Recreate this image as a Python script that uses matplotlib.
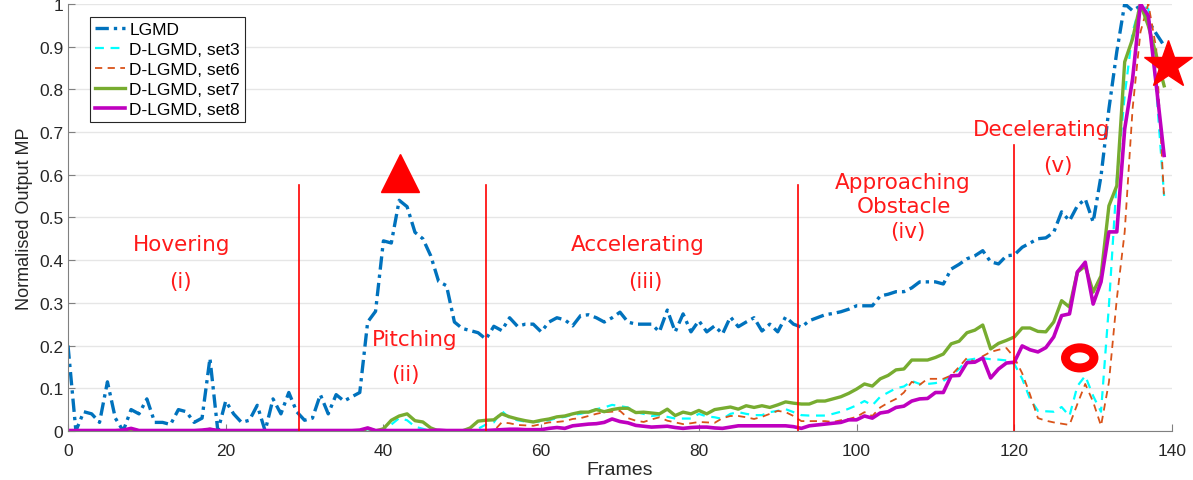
import numpy as np
import matplotlib
matplotlib.use("Agg")
import matplotlib.pyplot as plt
from matplotlib.patches import Ellipse

plt.rcParams['font.family'] = ['Liberation Sans', 'DejaVu Sans']

frames = np.arange(140)

lgmd = [
    0.20, 0.00, 0.045, 0.04, 0.02, 0.115, 0.03, 0.00, 0.05, 0.04,
    0.075, 0.02, 0.02, 0.015, 0.05, 0.045, 0.02, 0.03, 0.17, 0.00,
    0.07, 0.04, 0.02, 0.025, 0.06, 0.00, 0.075, 0.04, 0.09, 0.045,
    0.025, 0.03, 0.085, 0.04, 0.085, 0.07, 0.08, 0.09, 0.255, 0.28,
    0.445, 0.44, 0.54, 0.525, 0.465, 0.45, 0.41, 0.35, 0.34, 0.255,
    0.24, 0.235, 0.23, 0.215, 0.245, 0.235, 0.265, 0.245, 0.25, 0.25,
    0.232, 0.255, 0.265, 0.26, 0.246, 0.27, 0.272, 0.265, 0.255, 0.265,
    0.278, 0.255, 0.25, 0.25, 0.25, 0.232, 0.283, 0.232, 0.274, 0.232,
    0.258, 0.232, 0.246, 0.227, 0.267, 0.244, 0.255, 0.265, 0.234, 0.25,
    0.232, 0.267, 0.25, 0.243, 0.258, 0.265, 0.272, 0.275, 0.279, 0.285,
    0.293, 0.293, 0.293, 0.316, 0.32, 0.326, 0.326, 0.335, 0.349, 0.349,
    0.349, 0.344, 0.379, 0.39, 0.403, 0.41, 0.422, 0.396, 0.391, 0.41,
    0.412, 0.43, 0.44, 0.45, 0.452, 0.465, 0.513, 0.492, 0.527, 0.543,
    0.489, 0.597, 0.754, 0.888, 1.0, 0.984, 0.995, 0.96, 0.93, 0.902,
]

set3 = [
    0.0, 0.0, 0.0, 0.0, 0.0, 0.0, 0.0, 0.0, 0.003, 0.0,
    0.0, 0.0, 0.0, 0.0, 0.0, 0.0, 0.0, 0.0, 0.003, 0.0,
    0.0, 0.0, 0.0, 0.0, 0.0, 0.0, 0.0, 0.0, 0.0, 0.0,
    0.0, 0.0, 0.0, 0.0, 0.0, 0.0, 0.0, 0.0, 0.004, 0.0,
    0.0, 0.015, 0.03, 0.025, 0.01, 0.005, 0.0, 0.0, 0.0, 0.0,
    0.0, 0.0, 0.005, 0.015, 0.02, 0.047, 0.03, 0.025, 0.022, 0.021,
    0.022, 0.025, 0.03, 0.033, 0.038, 0.04, 0.045, 0.051, 0.055, 0.061,
    0.058, 0.055, 0.044, 0.04, 0.035, 0.037, 0.033, 0.029, 0.029, 0.029,
    0.04, 0.034, 0.032, 0.028, 0.04, 0.044, 0.04, 0.037, 0.037, 0.044,
    0.047, 0.051, 0.044, 0.037, 0.036, 0.036, 0.036, 0.04, 0.045, 0.052,
    0.06, 0.07, 0.06, 0.08, 0.09, 0.1, 0.104, 0.117, 0.11, 0.11,
    0.112, 0.117, 0.13, 0.145, 0.166, 0.169, 0.17, 0.168, 0.167, 0.165,
    0.157, 0.122, 0.075, 0.047, 0.046, 0.045, 0.056, 0.035, 0.105, 0.129,
    0.082, 0.045, 0.293, 0.59, 0.785, 0.934, 1.0, 0.988, 0.8, 0.55,
]

set6 = [
    0.0, 0.0, 0.0, 0.0, 0.0, 0.0, 0.0, 0.0, 0.0, 0.0,
    0.0, 0.0, 0.0, 0.0, 0.0, 0.0, 0.0, 0.0, 0.0, 0.0,
    0.0, 0.0, 0.0, 0.0, 0.0, 0.0, 0.0, 0.0, 0.0, 0.0,
    0.0, 0.0, 0.0, 0.0, 0.0, 0.0, 0.0, 0.0, 0.0, 0.0,
    0.0, 0.0, 0.0, 0.0, 0.0, 0.0, 0.0, 0.0, 0.0, 0.0,
    0.0, 0.0, 0.0, 0.0, 0.0, 0.02, 0.018, 0.014, 0.013, 0.012,
    0.016, 0.02, 0.021, 0.023, 0.028, 0.03, 0.035, 0.04, 0.044, 0.045,
    0.047, 0.03, 0.024, 0.021, 0.027, 0.032, 0.024, 0.02, 0.016, 0.018,
    0.021, 0.02, 0.019, 0.03, 0.035, 0.035, 0.032, 0.028, 0.033, 0.04,
    0.047, 0.044, 0.035, 0.023, 0.023, 0.023, 0.023, 0.021, 0.025, 0.028,
    0.033, 0.044, 0.035, 0.055, 0.066, 0.075, 0.09, 0.115, 0.108, 0.122,
    0.122, 0.122, 0.13, 0.15, 0.171, 0.162, 0.175, 0.185, 0.19, 0.194,
    0.172, 0.135, 0.085, 0.03, 0.024, 0.02, 0.017, 0.014, 0.063, 0.11,
    0.068, 0.012, 0.114, 0.309, 0.466, 0.754, 0.934, 1.0, 0.895, 0.543,
]

set7 = [
    0.0, 0.0, 0.0, 0.0, 0.0, 0.0, 0.0, 0.0, 0.004, 0.0,
    0.0, 0.0, 0.0, 0.0, 0.0, 0.0, 0.0, 0.0, 0.004, 0.0,
    0.0, 0.0, 0.0, 0.0, 0.0, 0.0, 0.0, 0.0, 0.0, 0.0,
    0.0, 0.0, 0.0, 0.0, 0.0, 0.0, 0.0, 0.0, 0.006, 0.0,
    0.005, 0.025, 0.035, 0.04, 0.024, 0.021, 0.007, 0.0, 0.0, 0.0,
    0.0, 0.007, 0.023, 0.025, 0.026, 0.04, 0.033, 0.028, 0.024, 0.021,
    0.025, 0.028, 0.033, 0.035, 0.04, 0.044, 0.044, 0.05, 0.045, 0.05,
    0.053, 0.053, 0.043, 0.044, 0.042, 0.04, 0.051, 0.036, 0.044, 0.04,
    0.048, 0.04, 0.05, 0.053, 0.056, 0.051, 0.059, 0.055, 0.059, 0.055,
    0.061, 0.068, 0.065, 0.063, 0.063, 0.07, 0.07, 0.075, 0.08, 0.088,
    0.098, 0.11, 0.105, 0.122, 0.13, 0.143, 0.145, 0.166, 0.166, 0.166,
    0.172, 0.18, 0.204, 0.21, 0.23, 0.236, 0.248, 0.192, 0.205, 0.212,
    0.22, 0.241, 0.241, 0.233, 0.232, 0.255, 0.305, 0.29, 0.372, 0.386,
    0.325, 0.363, 0.527, 0.574, 0.864, 0.918, 1.0, 0.948, 0.88, 0.808,
]

set8 = [
    0.001, 0.001, 0.001, 0.001, 0.001, 0.001, 0.001, 0.002, 0.006, 0.001,
    0.001, 0.001, 0.001, 0.001, 0.001, 0.001, 0.001, 0.002, 0.004, 0.001,
    0.001, 0.001, 0.001, 0.001, 0.001, 0.001, 0.001, 0.001, 0.001, 0.001,
    0.001, 0.001, 0.001, 0.001, 0.001, 0.001, 0.001, 0.002, 0.007, 0.001,
    0.001, 0.001, 0.001, 0.001, 0.001, 0.001, 0.001, 0.002, 0.001, 0.001,
    0.001, 0.001, 0.001, 0.001, 0.002, 0.003, 0.004, 0.004, 0.003, 0.003,
    0.003, 0.006, 0.008, 0.006, 0.012, 0.014, 0.016, 0.017, 0.02, 0.028,
    0.022, 0.019, 0.013, 0.011, 0.009, 0.01, 0.011, 0.008, 0.006, 0.008,
    0.009, 0.009, 0.007, 0.006, 0.009, 0.012, 0.012, 0.012, 0.012, 0.012,
    0.012, 0.012, 0.01, 0.006, 0.012, 0.014, 0.016, 0.018, 0.02, 0.026,
    0.026, 0.035, 0.03, 0.042, 0.045, 0.055, 0.058, 0.07, 0.075, 0.076,
    0.09, 0.09, 0.129, 0.13, 0.16, 0.161, 0.171, 0.124, 0.145, 0.159,
    0.161, 0.199, 0.19, 0.185, 0.195, 0.22, 0.27, 0.274, 0.372, 0.395,
    0.297, 0.349, 0.466, 0.466, 0.707, 0.824, 1.0, 0.972, 0.81, 0.645,
]

phase_bounds = [29.3, 53, 92.6, 120]
phase_tops = [0.575, 0.575, 0.575, 0.67]

phase_labels = [
    ("Hovering", 14.4, 0.438), ("(i)", 14.2, 0.351),
    ("Pitching", 44.0, 0.215), ("(ii)", 42.8, 0.133),
    ("Accelerating", 72.3, 0.438), ("(iii)", 73.2, 0.351),
    ("Approaching", 105.8, 0.583), ("Obstacle", 106.0, 0.527), ("(iv)", 106.5, 0.468),
    ("Decelerating", 123.5, 0.707), ("(v)", 125.5, 0.623),
]

fig = plt.figure(figsize=(11.93, 4.81), dpi=100)
ax = fig.add_axes([0.057, 0.102, 0.9254, 0.888])

ax.plot(frames, lgmd, color='#0072BD', lw=2.4, ls=(0, (4, 1.5, 1, 1.5)), label='LGMD')
ax.plot(frames, set3, color='#00FFFF', lw=1.6, ls=(0, (4, 3)), label='D-LGMD, set3')
ax.plot(frames, set6, color='#D95319', lw=1.3, ls=(0, (4, 3)), label='D-LGMD, set6')
ax.plot(frames, set7, color='#77AC30', lw=2.4, label='D-LGMD, set7')
ax.plot(frames, set8, color='#BF00BF', lw=2.6, label='D-LGMD, set8')

for xb, top in zip(phase_bounds, phase_tops):
    ax.plot([xb, xb], [0, top], color='red', lw=1.2)

for txt, x, y in phase_labels:
    ax.text(x, y, txt, color='#FF1A1A', fontsize=15.5, ha='center', va='center',
            family=['DejaVu Sans'])

# event markers
ax.plot([42.1], [0.604], marker='^', color='red', ms=28, ls='none')
ax.plot([139.5], [0.857], marker='*', color='red', ms=36, ls='none', clip_on=False)
ax.add_patch(Ellipse((128.3, 0.171), width=3.6, height=0.047, fill=False,
                     edgecolor='red', lw=6.5))

ax.set_xlim(0, 140)
ax.set_ylim(0, 1)
ax.set_xticks(np.arange(0, 141, 20))
ax.set_yticks(np.arange(0, 1.01, 0.1))
ax.set_yticklabels(['0', '0.1', '0.2', '0.3', '0.4', '0.5', '0.6', '0.7', '0.8', '0.9', '1'])
ax.yaxis.grid(True, color='#E6E6E6', lw=1)
ax.set_axisbelow(True)
ax.tick_params(direction='in', length=5, color='#808080', labelsize=12.5, labelcolor='#262626')
ax.tick_params(axis='x', pad=9)
for s in ['top', 'right']:
    ax.spines[s].set_visible(False)
for s in ['left', 'bottom']:
    ax.spines[s].set_color('#808080')

ax.set_xlabel('Frames', fontsize=14, color='#262626', labelpad=2)
ax.set_ylabel('Normalised Output MP', fontsize=13, color='#262626', labelpad=4)

leg = ax.legend(loc='upper left', bbox_to_anchor=(0.02, 0.97), borderaxespad=0,
                fontsize=12.5, handlelength=1.7, handletextpad=0.25, labelspacing=0.28,
                borderpad=0.3, fancybox=False, framealpha=1, edgecolor='#262626')
leg.get_frame().set_linewidth(0.8)

fig.savefig('out.png', dpi=100)
